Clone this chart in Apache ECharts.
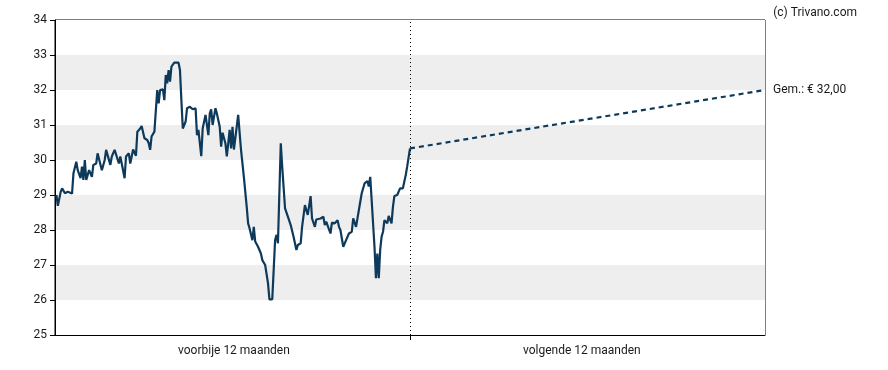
<!DOCTYPE html>
<html>
<head>
<meta charset="utf-8">
<script src="https://cdn.jsdelivr.net/npm/echarts@6/dist/echarts.min.js"></script>
<style>html,body{margin:0;padding:0;background:#fff}#c{width:888px;height:370px}</style>
</head>
<body>
<div id="c"></div>
<script>
// trading-day index (0..500 spans past + next 12 months)
const histDays = [1,2,4,5,7,9,12,13,15,16,18,19,20,21,22,24,26,27,29,30,33,35,36,39,40,42,45,46,47,49,50,52,53,55,56,57,58,60,61,63,65,66,67,68,70,72,73,74,76,77,78,79,80,81,82,84,87,88,89,90,92,93,95,97,99,100,101,103,104,106,107,108,109,110,111,113,114,116,117,118,119,120,121,123,124,125,126,127,129,130,131,133,134,135,136,137,138,139,140,141,143,145,146,147,148,149,150,151,153,154,155,156,157,159,160,162,164,166,167,168,170,171,173,174,176,177,178,180,181,183,184,187,189,190,191,192,194,195,197,199,200,201,203,205,207,209,210,211,212,214,215,216,218,220,221,222,223,225,226,227,228,229,230,231,232,234,235,236,237,238,239,241,243,245,247,248,250];
const histValues = [29.0,28.69,29.09,29.19,29.05,29.09,29.04,29.62,29.95,29.71,29.48,29.81,29.43,30.0,29.43,29.71,29.52,29.86,29.9,30.19,29.71,30.0,30.29,29.86,30.1,30.29,29.9,30.1,29.9,29.48,30.1,30.19,29.9,30.3,30.29,30.12,30.81,30.9,30.97,30.62,30.57,30.48,30.29,30.67,30.81,32.0,31.62,32.0,32.02,31.71,32.43,32.19,32.57,32.24,32.67,32.78,32.78,32.57,31.71,30.9,31.1,31.48,31.52,31.45,31.48,30.71,30.86,30.11,30.9,31.29,31.31,30.71,31.33,31.45,31.0,31.48,31.33,30.95,30.38,30.78,30.81,30.48,30.1,30.86,30.33,30.95,30.3,30.3,31.29,31.33,30.29,29.52,29.48,28.67,28.19,28.05,28.09,27.71,28.09,27.67,27.52,27.33,27.14,27.14,27.0,26.95,26.48,26.02,26.02,26.86,27.71,27.86,27.62,30.48,29.81,28.62,28.38,28.14,28.09,27.81,27.43,27.57,27.62,28.09,28.71,28.76,28.43,28.97,28.33,28.09,28.3,28.33,28.38,28.14,28.24,28.21,27.9,28.21,28.19,28.28,28.09,28.0,27.52,27.71,27.9,27.95,28.33,28.38,28.09,28.57,28.62,29.05,29.33,29.4,29.24,29.52,29.57,27.52,26.62,27.33,26.62,27.43,27.81,27.95,28.28,28.19,28.4,28.38,28.19,28.67,28.97,29.0,29.19,29.19,29.57,29.81,30.33];
const forecastDays = [250, 500];
const forecastValues = [30.33, 32.0];
const targetLabel = 'Gem.: € 32,00';
const periodLabels = ['voorbije 12 maanden', 'volgende 12 maanden'];
const periodLabelPos = [126, 371];
const yTicks = [25,26,27,28,29,30,31,32,33,34];

const lineColor = '#0d3a5a';
const textColor = '#1a1a1a';
const font = 'Roboto';

const chart = echarts.init(document.getElementById('c'), null, {renderer: 'canvas'});
chart.setOption({
  animation: false,
  backgroundColor: '#ffffff',
  textStyle: {fontFamily: font},
  title: {
    text: '(c) Trivano.com', right: 26, top: 2,
    textStyle: {fontFamily: font, fontSize: 12, fontWeight: 'normal', color: textColor}
  },
  grid: {left: 55, right: 123, top: 20, bottom: 35, show: true, borderColor: '#000', borderWidth: 1, backgroundColor: 'transparent'},
  xAxis: {
    type: 'value', min: 0, max: 500, interval: 125,
    axisLine: {show: true, lineStyle: {color: '#000', width: 1}},
    splitLine: {show: false},
    axisTick: {show: true, customValues: [250], length: 5, lineStyle: {color: '#000'}},
    axisLabel: {
      show: true, customValues: periodLabelPos, margin: 10,
      fontFamily: font, fontSize: 12, color: textColor,
      formatter: v => periodLabels[periodLabelPos.indexOf(v)] || ''
    }
  },
  yAxis: {
    type: 'value', min: yTicks[0], max: yTicks[yTicks.length-1], interval: 1,
    axisLine: {show: true, lineStyle: {color: '#000', width: 1}},
    axisTick: {show: true, length: 5, lineStyle: {color: '#000'}},
    axisLabel: {fontFamily: font, fontSize: 12, color: textColor, margin: 8},
    splitLine: {show: false},
    splitArea: {show: true, areaStyle: {color: ['#ffffff', '#eeeeee']}}
  },
  series: [
    {
      type: 'line', name: 'koers', showSymbol: false, symbol: 'none',
      data: histDays.map((d, i) => [d, histValues[i]]),
      lineStyle: {color: lineColor, width: 2.2},
      markLine: {
        silent: true, symbol: 'none', label: {show: false},
        lineStyle: {color: '#000', type: [1, 3], width: 1},
        data: [{xAxis: forecastDays[0]}]
      }
    },
    {
      type: 'line', name: 'koersdoel', showSymbol: false, symbol: 'none',
      data: forecastDays.map((d, i) => [d, forecastValues[i]]),
      lineStyle: {color: lineColor, width: 2.2, type: [5, 4]},
      endLabel: {show: true, formatter: targetLabel, distance: 8, fontFamily: font, fontSize: 12, color: textColor}
    }
  ]
});
</script>
</body>
</html>
